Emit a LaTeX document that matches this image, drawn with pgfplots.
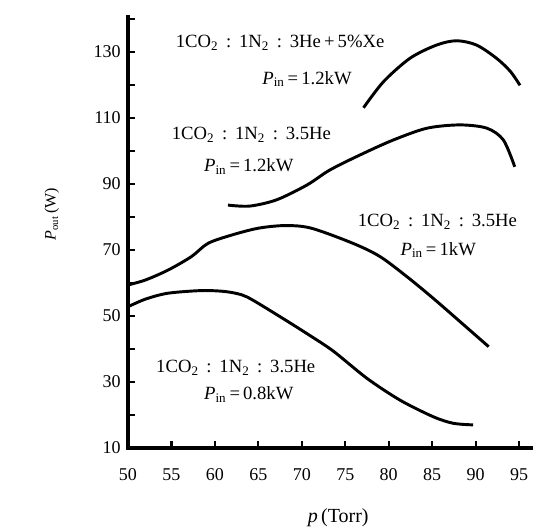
\documentclass[border=0pt]{standalone}
\usepackage{fontspec}
\setmainfont{Liberation Serif}
\usepackage{pgfplots}
\pgfplotsset{compat=1.18}

\newcommand{\ann}{\fontsize{14}{16}\selectfont}
\newcommand{\Pin}{\textit{P}\textsubscript{in}\,=\,}
\newcommand{\sep}{\ \,:\ \,}
\tikzset{curve/.style={black, line width=2.2pt, smooth, mark=none}}

\begin{document}
\begin{tikzpicture}
\begin{axis}[
  scale only axis,
  width=303.75pt, height=323.25pt,
  xmin=50, xmax=96.6,
  ymin=10, ymax=140.6,
  axis x line*=bottom, axis y line*=left,
  axis line style={line width=2.4pt, line cap=rect},
  xtick={50,55,...,95},
  ytick={10,30,...,130},
  minor ytick={20,40,...,140},
  tick align=inside,
  major tick length=5pt, minor tick length=5pt,
  tick style={line width=1.6pt, black},
  /pgf/number format/assume math mode=true,
  ticklabel style={font=\fontsize{13.5}{15}\selectfont},
  xticklabel style={anchor=center, yshift=-20pt},
  yticklabel style={anchor=east, xshift=-2pt},
  xlabel={\textit{p}\,(Torr)},
  xlabel style={at={(axis description cs:0.519,-0.162)}, anchor=center, font=\fontsize{15}{17}\selectfont},
  ylabel={\textit{P}\textsubscript{out}\,(W)},
  ylabel style={at={(axis description cs:-0.188,0.543)}, anchor=center, font=\fontsize{12}{14}\selectfont},
  clip=false,
]
% 1CO2:1N2:3He+5%Xe, Pin=1.2kW
\addplot[curve] coordinates {(77.1,113.1) (79.4,121.0) (82.45,128.1) (85.5,132.1) (87.8,133.4) (90.1,132.1) (92.4,128.1) (94.0,124.1) (95.1,119.9)};
% 1CO2:1N2:3.5He, Pin=1.2kW
\addplot[curve] coordinates {(61.5,83.6) (64.0,83.3) (67.1,85.2) (70.6,89.7) (73.2,94.2) (76.7,98.8) (80.5,103.3) (84.4,106.9) (88.2,107.9) (91.3,106.9) (93.2,103.3) (94.5,95.2)};
% 1CO2:1N2:3.5He, Pin=1kW
\addplot[curve] coordinates {(50,59.4) (52.0,60.9) (54.6,63.9) (57.3,68.0) (59.2,72.0) (61.9,74.5) (65.0,76.6) (68.1,77.4) (71.1,76.6) (75.9,72.0) (79.0,68.0) (82.1,61.9) (85.1,55.4) (88.2,48.3) (91.5,40.7)};
% 1CO2:1N2:3.5He, Pin=0.8kW
\addplot[curve] coordinates {(50,52.8) (52.0,55.1) (54.6,56.9) (58.5,57.7) (61.2,57.4) (63.1,56.4) (64.5,54.6) (68.1,48.8) (70.8,44.3) (73.6,39.4) (77.5,31.1) (81.3,24.5) (85.1,19.5) (87.4,17.5) (89.7,17.0)};

\node[font=\ann] at (axis cs:67.5,132.7) {1CO\textsubscript{2}\sep 1N\textsubscript{2}\sep 3He\,+\,5\%Xe};
\node[font=\ann] at (axis cs:70.6,121.8) {\Pin 1.2kW};
\node[font=\ann] at (axis cs:64.2,104.8) {1CO\textsubscript{2}\sep 1N\textsubscript{2}\sep 3.5He};
\node[font=\ann] at (axis cs:63.9,95.2) {\Pin 1.2kW};
\node[font=\ann] at (axis cs:85.6,78.5) {1CO\textsubscript{2}\sep 1N\textsubscript{2}\sep 3.5He};
\node[font=\ann] at (axis cs:85.7,70.0) {\Pin 1kW};
\node[font=\ann] at (axis cs:62.4,34.2) {1CO\textsubscript{2}\sep 1N\textsubscript{2}\sep 3.5He};
\node[font=\ann] at (axis cs:63.9,26.1) {\Pin 0.8kW};
\end{axis}
\pgfresetboundingbox
\useasboundingbox (-96pt,-62.25pt) rectangle (303.75pt,336pt);
\end{tikzpicture}
\end{document}
